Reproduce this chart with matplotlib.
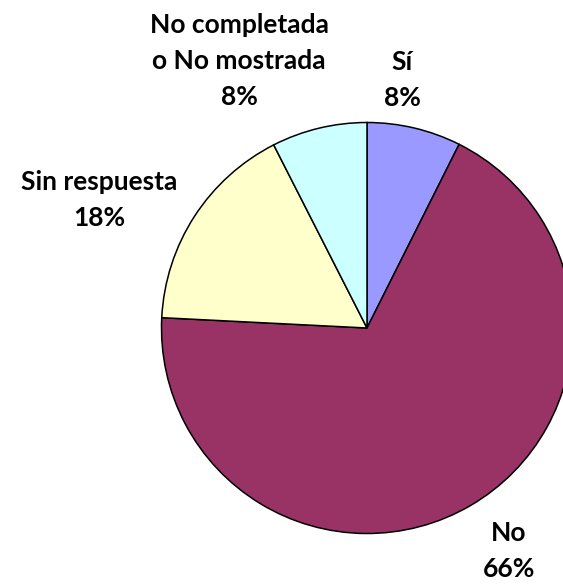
import matplotlib
matplotlib.use("Agg")
import matplotlib.pyplot as plt

# Slice shares; label text as printed on the chart
categories = ["Sí", "No", "Sin respuesta", "No completada\no No mostrada"]
shares = [7.4, 68.4, 16.7, 7.5]
pct_labels = ["8%", "66%", "18%", "8%"]
colors = ["#9999FF", "#993366", "#FFFFCC", "#CCFFFF"]

W, H = 563, 584

fig = plt.figure(figsize=(W / 100, H / 100), dpi=100)
ax = fig.add_axes([0, 0, 1, 1])

ax.pie(shares, colors=colors, startangle=90, counterclock=False,
       center=(367, H - 328), radius=205.5,
       wedgeprops=dict(edgecolor="black", linewidth=1.1))

ax.set_xlim(0, W)
ax.set_ylim(0, H)
ax.set_aspect("auto")
ax.axis("off")

# label anchor points in pixels (x, y from top)
label_pos = [(402, 80), (509, 551), (99, 200), (239, 61)]
for cat, pct, (x, y) in zip(categories, pct_labels, label_pos):
    ax.text(x, H - y, cat + "\n" + pct, ha="center", va="center",
            fontsize=19, fontweight="bold", family="Lato",
            linespacing=1.58)

fig.savefig("out.png", dpi=100)
